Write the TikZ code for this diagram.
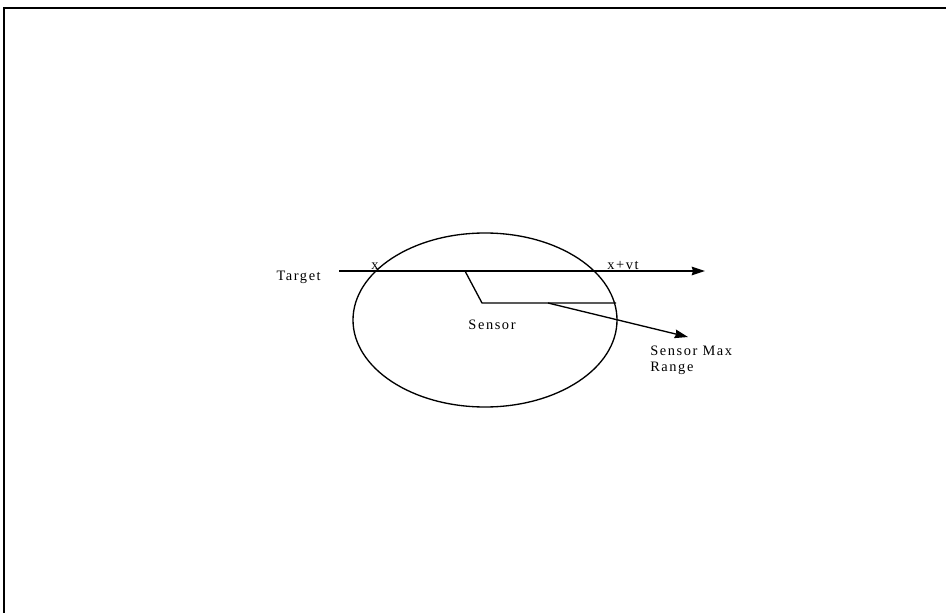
\documentclass[tikz,border=0pt]{standalone}
\usepackage{fontspec}
\setmainfont{Liberation Serif}
\usetikzlibrary{arrows.meta, positioning}

\begin{document}
\begin{tikzpicture}[
    x=0.75pt, y=-0.75pt,
    >={Stealth[length=10pt, width=6.5pt, inset=1pt]},
    line/.style={draw=black, line width=1pt},
    frame/.style={draw=black, line width=1.6pt},
    label/.style={inner sep=0pt, font=\fontsize{10.8}{11.5}\selectfont\addfontfeature{LetterSpace=11}}
]
    \useasboundingbox (0,0) rectangle (946,613);

    % frame, top and left side only
    \draw[frame] (946,8) -- (4,8) -- (4,613);

    % sensor range
    \draw[line] (485,320) ellipse [x radius=99pt, y radius=65.25pt];

    % target track
    \node[label, anchor=base east] (target) at (321,280) {Target};
    \coordinate (trackend) at (705,271);
    \coordinate (trackstart) at (339,271);
    \draw[line, ->] (trackstart) -- (trackend);
    \node[label, anchor=base] (posx) at (375,269) {x};
    \node[label, anchor=base] (posxvt) at (623,269) {x+vt};

    % sensor
    \coordinate (foot) at (465,271);
    \coordinate (sensorpos) at (482,303);
    \coordinate (rangeend) at (616,303);
    \draw[line] (foot) -- (sensorpos) -- (rangeend);
    \node[label, anchor=base] (sensor) at (492,329) {Sensor};

    \coordinate (arrowstart) at (548,303);
    \coordinate (arrowtip) at (688,337);
    \node[label, anchor=base west, align=left] (maxrange) at (650,371) {Sensor Max\\Range};
    \draw[line, ->] (arrowstart) -- (arrowtip);
\end{tikzpicture}
\end{document}
